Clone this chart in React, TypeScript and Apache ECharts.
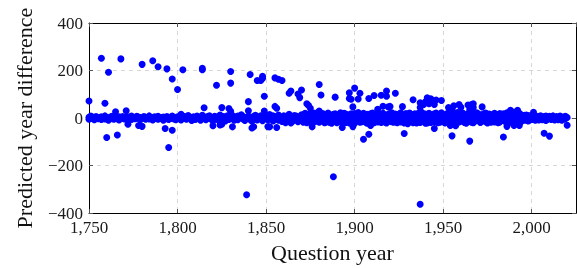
import React, { useEffect, useRef } from "react";
import * as echarts from "echarts";

// Near-zero band: [questionYear, ...predicted year differences]
const bandRows: number[][] = [
  [1750, 3, -5], [1751, 8], [1752, -2, 4], [1753, -7], [1754, 1, 6], [1755, -3], [1756, 2], [1757, -6, 5], [1758, -1], [1759, 9, -4],
  [1760, 2], [1761, -9], [1762, 4, -2], [1763, 7], [1764, 0, -5], [1765, 10], [1766, -3], [1767, 5, -8], [1768, 2], [1769, -1, 6],
  [1770, -4], [1771, 3], [1772, -12, 5], [1773, -2], [1774, 8, -6], [1775, 1], [1776, -3], [1777, 7, -1], [1778, 4], [1779, -7, 2],
  [1780, -2], [1781, 6], [1782, -5, 3], [1783, -1], [1784, 9, -4], [1785, 1], [1786, -8], [1787, 5, -2], [1788, 3], [1789, -5, 7],
  [1790, -1], [1791, 2], [1792, -9, 4], [1793, -3], [1794, 6, 0], [1795, -6], [1796, 3], [1797, -2, 8], [1798, -4], [1799, 1, -7],
  [1800, 5], [1801, -3], [1802, 9, -8], [1803, 2], [1804, -1, 6], [1805, -5], [1806, 11], [1807, -2, 3], [1808, -10], [1809, 5, 0],
  [1810, -6], [1811, 8], [1812, -3, 2], [1813, -9], [1814, 12, -1], [1815, 4], [1816, -7], [1817, 6, -2], [1818, 10], [1819, -5, 1],
  [1820, -11], [1821, 7], [1822, -3, 3], [1823, -8], [1824, 13, 0], [1825, -4], [1826, 6], [1827, -12, 2], [1828, 9], [1829, -6, 4],
  [1830, -1], [1831, 11], [1832, -9, 5], [1833, -3], [1834, 8, -7], [1835, 1], [1836, 14], [1837, -4, 6], [1838, -10], [1839, 3, -2],
  [1840, 9], [1841, -6], [1842, 2, -13], [1843, 7], [1844, -1, 12], [1845, -8], [1846, 4], [1847, -3, 10], [1848, -11], [1849, 5, -2],
  [1850, 8], [1851, -7], [1852, 15, -4], [1853, 3], [1854, -12, 9], [1855, -1], [1856, 6], [1857, -9, 13], [1858, -5], [1859, 2, -14],
  [1860, 10], [1861, -3], [1862, 7, -10], [1863, 16], [1864, -6, 3], [1865, -13], [1866, 11], [1867, -2, 8], [1868, -15], [1869, 5, -7],
  [1870, 14, -9, 3], [1871, -18, 8, -2], [1872, 20, -12, 5], [1873, -6, 16, -20], [1874, 2, -15, 11],
  [1875, -10, 19, -4], [1876, 7, -21, 13], [1877, -3, 10, -16], [1878, 17, -7, 1], [1879, -13, 22, -9],
  [1880, 4, -18, 12], [1881, -8, 15, -1], [1882, 19, -11, 6], [1883, -20, 3, 14], [1884, 9, -5, -17],
  [1885, -2, 21, -12], [1886, 12, -19, 4], [1887, -7, 8, -22], [1888, 16, -3, 10], [1889, -14, 18, -6],
  [1890, 5, -20, 13], [1891, -11, 11, -1], [1892, 22, -8, 3], [1893, -17, 6, 15], [1894, 1, -13, 20],
  [1895, -5, 17, -19], [1896, 10, -2, -10], [1897, -21, 14, 7], [1898, 18, -16, -3], [1899, -9, 4, 12],
  [1900, 2, -22, 19], [1901, -12, 9, -4], [1902, 15, -6, 23], [1903, -18, 13, 0], [1904, 7, -10, -15],
  [1905, -3, 20, 11], [1906, 14, -17, -7], [1907, -22, 5, 16], [1908, 10, -1, -12], [1909, -6, 18, 3],
  [1910, 21, -14, -9], [1911, -2, 12, -20], [1912, 8, -5, 17], [1913, -16, 22, -3], [1914, 4, -11, 9],
  [1915, -19, 15, -8], [1916, 13, -2, 20], [1917, -10, 7, -17], [1918, 1, -21, 12], [1919, -7, 16, 5],
  [1920, 19, -13, -4], [1921, -15, 10, 22], [1922, 6, -8, -18], [1923, -1, 17, -11], [1924, 14, -20, 8],
  [1925, -9, 3, 15], [1926, 22, -16, -6], [1927, -12, 11, 1], [1928, 9, -4, -21], [1929, -18, 19, 6],
  [1930, 3, -10, 13], [1931, -5, 21, -14], [1932, 16, -7, -1], [1933, -20, 12, 8], [1934, 11, -17, 18],
  [1935, -8, 2, -12], [1936, 20, -13, 5], [1937, -3, 15, -19], [1938, 7, -9, 23], [1939, -14, 6, -5],
  [1940, 17, -22, 10], [1941, -11, 13, -2], [1942, 4, -15, 20], [1943, -19, 9, -8], [1944, 14, -4, 1],
  [1945, -6, 18, -16], [1946, 21, -12, 7], [1947, -2, 5, -20], [1948, 12, -18, 16], [1949, -15, 22, -4],
  [1950, 8, -7, 11], [1951, -21, 14, 2], [1952, 18, -3, -13], [1953, -9, 10, 20], [1954, 1, -16, 6],
  [1955, -12, 19, -1], [1956, 15, -20, 9], [1957, -4, 7, -17], [1958, 23, -11, 3], [1959, -17, 12, -6],
  [1960, 5, -2, 18], [1961, -13, 21, -10], [1962, 10, -19, 4], [1963, -7, 15, -22], [1964, 19, -5, 12],
  [1965, -1, 8, -14], [1966, 13, -18, 20], [1967, -20, 3, -6], [1968, 7, -12, 16], [1969, -10, 22, -3],
  [1970, 17, -8, 9], [1971, -16, 11, -19], [1972, 2, -4, 14], [1973, -11, 18, -7], [1974, 21, -15, 5],
  [1975, -5, 9, -21], [1976, 12, -1, 17], [1977, -18, 14, -9], [1978, 6, -13, 1], [1979, -3, 20, -16],
  [1980, 15, -6, 10], [1981, -12, 4, -20], [1982, 19, -17, 8], [1983, -8, 13, -2], [1984, 3, -10, 18],
  [1985, -14, 16, -5], [1986, 11, -19, 22], [1987, -1, 7, -12], [1988, 16, -9, 3], [1989, -21, 12, -6],
  [1990, 9, -3, 15], [1991, -13, 18, -17], [1992, 5, -11, 10], [1993, -7, 20, -2], [1994, 14, -15, 6],
  [1995, -4, 8, -10], [1996, 12, -7, 3], [1997, -9, 13, -5], [1998, 6, -12, 10], [1999, -3, 9, -8],
  [2000, 5, -6], [2001, 9, -3], [2002, 2, -9], [2003, 7, -1], [2004, 4, -8], [2005, 10, -4], [2006, 1, -7],
  [2007, 6, -2], [2008, 8, -10], [2009, 3, -5], [2010, 7, 0], [2011, -6, 5], [2012, -3, 9], [2013, -8, 2],
  [2014, 6, -4], [2015, 1, -7], [2016, 8, -2], [2017, 4, -9], [2018, 3, -5], [2019, 7, -3], [2020, 2],
];

// Points well above the band: [questionYear, difference]
const highOutliers: number[][] = [
  [1750, 72], [1757, 252], [1759, 62], [1761, 193], [1765, 26], [1768, 249], [1771, 31], [1780, 226],
  [1786, 241], [1789, 216], [1794, 207], [1797, 164], [1800, 120], [1802, 16], [1803, 203], [1814, 209],
  [1814, 203], [1815, 43], [1822, 138], [1825, 44], [1829, 40], [1830, 28], [1830, 196], [1830, 147],
  [1840, 69], [1840, 31], [1841, 183], [1845, 158], [1847, 158], [1848, 176], [1848, 167], [1849, 92],
  [1849, 30], [1855, 169], [1855, 49], [1856, 41], [1857, 163], [1859, 158], [1863, 104], [1864, 114],
  [1868, 101], [1869, 86], [1870, 118], [1873, 60], [1874, 53], [1875, 41], [1877, 21], [1880, 141],
  [1880, 30], [1881, 97], [1889, 88], [1897, 106], [1897, 82], [1898, 79], [1899, 47], [1900, 126],
  [1903, 104], [1902, 80], [1908, 82], [1911, 95], [1913, 37], [1915, 96], [1916, 50], [1918, 92],
  [1918, 114], [1919, 47], [1920, 49], [1923, 104], [1927, 48], [1933, 77], [1937, 44], [1937, 64],
  [1939, 57], [1940, 68], [1941, 85], [1942, 60], [1943, 81], [1944, 71], [1945, 57], [1946, 76],
  [1949, 74], [1953, 44], [1955, 36], [1956, 52], [1959, 57], [1960, 45], [1964, 55], [1965, 37],
  [1966, 57], [1967, 60], [1967, 44], [1972, 47], [1988, 33], [1990, 24], [1992, 33], [2001, 24],
];

// Points well below the band: [questionYear, difference]
const lowOutliers: number[][] = [
  [1760, -82], [1766, -71], [1772, -26], [1778, -31], [1780, -35], [1793, -44], [1795, -124], [1797, -51],
  [1820, -32], [1824, -29], [1825, -26], [1831, -37], [1839, -323], [1842, -42], [1843, -37], [1851, -36],
  [1852, -37], [1856, -40], [1861, -20], [1864, -21], [1876, -37], [1888, -247], [1893, -21], [1893, -40],
  [1899, -36], [1905, -89], [1908, -68], [1909, -31], [1928, -65], [1930, -24], [1935, -21], [1937, -363],
  [1941, -21], [1945, -44], [1954, -31], [1955, -75], [1957, -32], [1965, -97], [1984, -80], [1986, -35],
  [1990, -31], [1993, -31], [2007, -64], [2010, -76], [2020, -30],
];

const xTicks = { min: 1750, max: 2025, interval: 50 };
const yTicks = { min: -400, max: 400, interval: 200 };

const FONT = "'Liberation Serif', 'Times New Roman', serif";

export default function App() {
  const ref = useRef<HTMLDivElement>(null);
  useEffect(() => {
    if (!ref.current) return;
    const chart = echarts.init(ref.current, undefined, { renderer: "svg" });
    const points: number[][] = [
      ...bandRows.flatMap(([year, ...diffs]) => diffs.map((d) => [year, d])),
      ...highOutliers,
      ...lowOutliers,
    ];
    const labelStyle = { fontFamily: FONT, fontSize: 17, color: "#1a1a1a" };
    const frameLine = { show: true, onZero: false, lineStyle: { color: "#000", width: 1 } };
    const grid = { type: [4, 4] as number[], color: "#d6d6d6", width: 1 };
    chart.setOption({
      animation: false,
      grid: { left: 89, right: 1, top: 23, bottom: 49, containLabel: false },
      xAxis: [
        {
          type: "value",
          ...xTicks,
          position: "bottom",
          axisLine: frameLine,
          axisTick: { show: true, inside: true, length: 4, lineStyle: { color: "#555" } },
          axisLabel: {
            ...labelStyle,
            margin: 6,
            showMaxLabel: false,
            formatter: (v: number) => v.toLocaleString("en-US"),
          },
          splitLine: { show: true, lineStyle: grid },
          name: "Question year",
          nameLocation: "middle",
          nameGap: 27,
          nameTextStyle: { fontFamily: FONT, fontSize: 22, color: "#111" },
        },
        {
          type: "value",
          ...xTicks,
          position: "top",
          axisLine: frameLine,
          axisTick: { show: true, inside: true, length: 4, lineStyle: { color: "#555" } },
          axisLabel: { show: false },
          splitLine: { show: false },
        },
      ],
      yAxis: [
        {
          type: "value",
          ...yTicks,
          position: "left",
          axisLine: frameLine,
          axisTick: { show: true, inside: true, length: 4, lineStyle: { color: "#555" } },
          axisLabel: {
            ...labelStyle,
            margin: 6,
            formatter: (v: number) => (v < 0 ? "\u2212" + Math.abs(v) : String(v)),
          },
          splitLine: { show: true, lineStyle: grid },
          name: "Predicted year difference",
          nameLocation: "middle",
          nameGap: 54,
          nameTextStyle: { fontFamily: FONT, fontSize: 22, color: "#111" },
        },
        {
          type: "value",
          ...yTicks,
          position: "right",
          axisLine: frameLine,
          axisTick: { show: true, inside: true, length: 4, lineStyle: { color: "#555" } },
          axisLabel: { show: false },
          splitLine: { show: false },
        },
      ],
      series: [
        {
          type: "scatter",
          xAxisIndex: 0,
          yAxisIndex: 0,
          data: points,
          symbol: "circle",
          symbolSize: 7,
          itemStyle: { color: "#0000ff", opacity: 1 },
          emphasis: { disabled: true },
        },
      ],
    });
    return () => chart.dispose();
  }, []);
  return (
    <div
      ref={ref}
      style={{ position: "fixed", left: 0, top: 0, width: 577, height: 268 }}
    />
  );
}
